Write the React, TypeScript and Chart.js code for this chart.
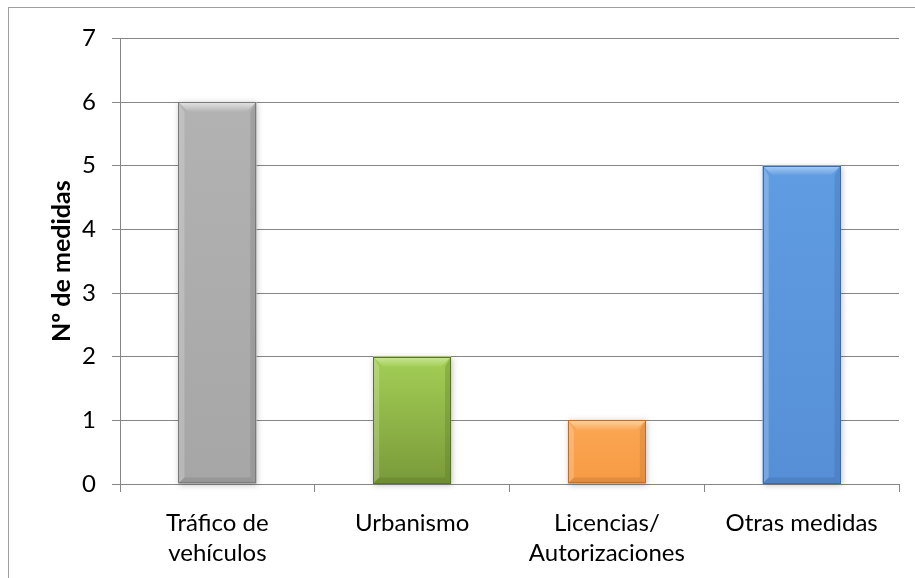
import React, { useEffect, useRef } from "react";
import { Chart, registerables } from "chart.js";

Chart.register(...registerables);

const categories: (string | string[])[] = [
  ["Tráfico de", "vehículos"],
  "Urbanismo",
  ["Licencias/", "Autorizaciones"],
  "Otras medidas",
];
const values = [6, 2, 1, 5];
const yTitle = "Nº de medidas";
const yMin = 0;
const yMax = 7;

const barTop = ["#b2b2b2", "#a3cf55", "#fba754", "#609ce2"];
const barBottom = ["#a6a6a6", "#7a9a3a", "#f79a44", "#568fd6"];
const barEdge = ["#7a7a7a", "#5a7529", "#b86f30", "#3d6aa3"];
const barLight = ["#e4e4e4", "#cde79a", "#fdd2a0", "#a9cff7"];

const FONT = "Lato, 'Open Sans', sans-serif";

const bevelPlugin = {
  id: "bevel",
  beforeDatasetsDraw(chart: any) {
    const ctx = chart.ctx;
    const meta = chart.getDatasetMeta(0);
    meta.data.forEach((bar: any) => {
      const p = bar.getProps(["x", "y", "base", "width"], true);
      ctx.save();
      ctx.shadowColor = "rgba(0,0,0,0.25)";
      ctx.shadowBlur = 6;
      ctx.shadowOffsetX = 1;
      ctx.shadowOffsetY = 1;
      ctx.fillStyle = "#ffffff";
      ctx.fillRect(p.x - p.width / 2, p.y, p.width, p.base - p.y);
      ctx.restore();
    });
  },
  afterDatasetsDraw(chart: any) {
    const ctx = chart.ctx;
    const meta = chart.getDatasetMeta(0);
    meta.data.forEach((bar: any, i: number) => {
      const p = bar.getProps(["x", "y", "base", "width"], true);
      const l = p.x - p.width / 2;
      const r = p.x + p.width / 2;
      const t = p.y;
      const b = p.base;
      const bv = Math.min(10, (b - t) / 3);
      ctx.save();
      const body = ctx.createLinearGradient(0, t, 0, b);
      body.addColorStop(0, barTop[i]);
      body.addColorStop(1, barBottom[i]);
      ctx.fillStyle = body;
      ctx.fillRect(l, t, r - l, b - t);
      const g = ctx.createLinearGradient(0, t, 0, t + bv);
      g.addColorStop(0, barLight[i]);
      g.addColorStop(1, barTop[i]);
      ctx.fillStyle = g;
      ctx.beginPath();
      ctx.moveTo(l, t);
      ctx.lineTo(r, t);
      ctx.lineTo(r - bv, t + bv);
      ctx.lineTo(l + bv, t + bv);
      ctx.closePath();
      ctx.fill();
      ctx.globalAlpha = 0.2;
      ctx.fillStyle = "#ffffff";
      ctx.beginPath();
      ctx.moveTo(l, t);
      ctx.lineTo(l + bv * 0.6, t + bv);
      ctx.lineTo(l + bv * 0.6, b - bv * 0.6);
      ctx.lineTo(l, b);
      ctx.closePath();
      ctx.fill();
      ctx.globalAlpha = 0.3;
      ctx.fillStyle = barEdge[i];
      ctx.beginPath();
      ctx.moveTo(r, t);
      ctx.lineTo(r - bv * 0.6, t + bv);
      ctx.lineTo(r - bv * 0.6, b - bv * 0.6);
      ctx.lineTo(r, b);
      ctx.closePath();
      ctx.fill();
      ctx.globalAlpha = 0.35;
      ctx.beginPath();
      ctx.moveTo(l, b);
      ctx.lineTo(l + bv * 0.6, b - bv * 0.6);
      ctx.lineTo(r - bv * 0.6, b - bv * 0.6);
      ctx.lineTo(r, b);
      ctx.closePath();
      ctx.fill();
      ctx.globalAlpha = 1;
      ctx.strokeStyle = barEdge[i];
      ctx.lineWidth = 1;
      ctx.strokeRect(Math.round(l) + 0.5, Math.round(t) + 0.5, Math.round(r - l) - 1, Math.round(b - t) - 1);
      ctx.restore();
    });
  },
};

export default function App() {
  const ref = useRef<HTMLCanvasElement>(null);
  useEffect(() => {
    if (!ref.current) return;
    const chart = new Chart(ref.current, {
      type: "bar",
      data: {
        labels: categories,
        datasets: [
          {
            data: values,
            backgroundColor: barTop,
            borderWidth: 0,
            categoryPercentage: 0.8,
            barPercentage: 0.5,
          },
        ],
      },
      options: {
        animation: false,
        responsive: false,
        maintainAspectRatio: false,
        layout: { padding: { top: 29, right: 16, left: 0, bottom: 0 } },
        plugins: { legend: { display: false }, tooltip: { enabled: false } },
        scales: {
          x: {
            offset: true,
            grid: {
              offset: true,
              drawOnChartArea: false,
              drawTicks: true,
              tickLength: 8,
              color: "#868686",
            },
            border: { color: "#868686" },
            ticks: {
              color: "#000000",
              font: { family: FONT, size: 24, lineHeight: 1.25 },
              padding: 16,
              maxRotation: 0,
              autoSkip: false,
            },
            afterFit: (s: any) => {
              s.height = 94;
            },
          },
          y: {
            min: yMin,
            max: yMax,
            grid: { color: "#868686", tickLength: 8 },
            border: { color: "#868686" },
            ticks: {
              stepSize: 1,
              color: "#000000",
              font: { family: FONT, size: 24 },
              padding: 16,
            },
            title: {
              display: true,
              text: yTitle,
              color: "#000000",
              font: { family: FONT, size: 25, weight: "bold" },
              padding: { top: 38, bottom: 0 },
            },
            afterFit: (s: any) => {
              s.width = 111;
            },
          },
        },
      },
      plugins: [bevelPlugin],
    });
    return () => chart.destroy();
  }, []);
  return (
    <div
      style={{
        position: "absolute",
        left: 8,
        top: 7,
        width: 907,
        height: 571,
        borderTop: "1px solid #a0a0a0",
        borderLeft: "1px solid #a0a0a0",
        background: "#fff",
        boxSizing: "border-box",
      }}
    >
      <canvas ref={ref} width={906} height={570} style={{ display: "block" }} />
    </div>
  );
}
